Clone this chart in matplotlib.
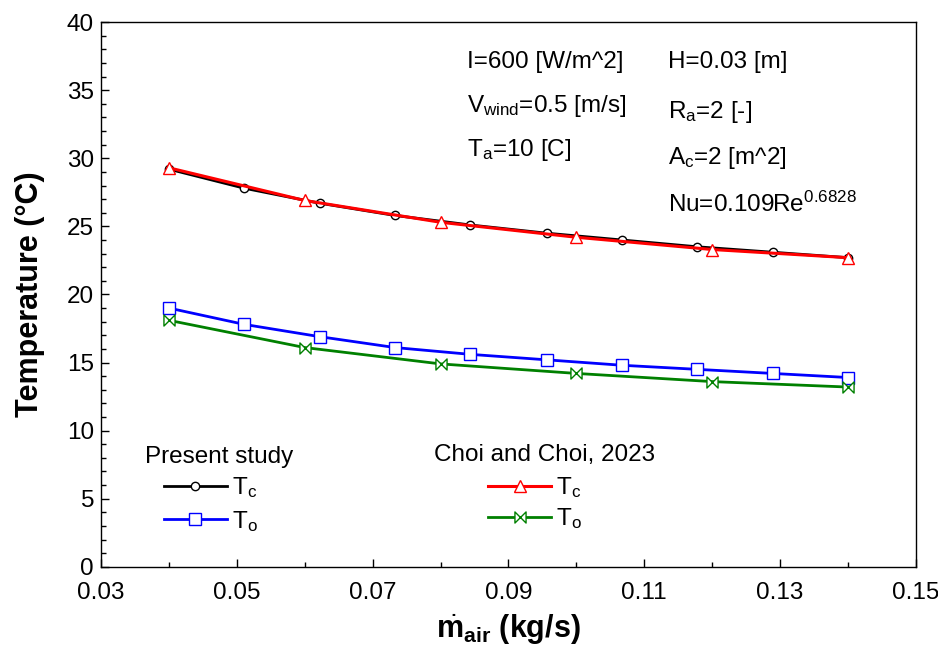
import numpy as np
import matplotlib
matplotlib.use("Agg")
import matplotlib.pyplot as plt
from matplotlib.ticker import MultipleLocator
from matplotlib.path import Path

plt.rcParams['font.family'] = ['Liberation Sans', 'DejaVu Sans']
plt.rcParams['mathtext.fontset'] = 'custom'
plt.rcParams['mathtext.rm'] = 'Liberation Sans'
plt.rcParams['mathtext.it'] = 'Liberation Sans:italic'
plt.rcParams['mathtext.bf'] = 'Liberation Sans:bold'

# present study (10 points)
m_present = [0.04, 0.0511, 0.0622, 0.0733, 0.0844, 0.0956, 0.1067, 0.1178, 0.1289, 0.14]
tc_present = [29.2, 27.8, 26.7, 25.8, 25.1, 24.5, 24.0, 23.5, 23.1, 22.7]
to_present = [19.0, 17.8, 16.9, 16.1, 15.6, 15.2, 14.8, 14.5, 14.2, 13.9]

# Choi and Choi, 2023 (6 points)
m_choi = [0.04, 0.06, 0.08, 0.10, 0.12, 0.14]
tc_choi = [29.3, 26.9, 25.3, 24.2, 23.3, 22.7]
to_choi = [18.1, 16.1, 14.9, 14.2, 13.6, 13.2]

notes_left = ['I=600 [W/m^2]', r'V$_\mathregular{wind}$=0.5 [m/s]', r'T$_\mathregular{a}$=10 [C]']
notes_right = ['H=0.03 [m]', r'R$_\mathregular{a}$=2 [-]', r'A$_\mathregular{c}$=2 [m^2]',
               r'Nu=0.109Re$^\mathregular{0.6828}$']

bowtie = Path([(-1, 1), (1, -1), (1, 1), (-1, -1), (-1, 1)],
              [Path.MOVETO, Path.LINETO, Path.LINETO, Path.LINETO, Path.CLOSEPOLY])

fs = 17.5

fig = plt.figure(figsize=(9.38, 6.5), dpi=100)
ax = fig.add_axes([0.1077, 0.128, 0.8688, 0.838])

l1, = ax.plot(m_present, tc_present, color='black', lw=2, marker='o', ms=6,
              mfc='white', mec='black', mew=1, label=r'T$_\mathregular{c}$', zorder=2)
l2, = ax.plot(m_present, to_present, color='blue', lw=2, marker='s', ms=8,
              mfc='white', mec='blue', mew=1, label=r'T$_\mathregular{o}$', zorder=2)
l3, = ax.plot(m_choi, tc_choi, color='red', lw=2.2, marker='^', ms=8,
              mfc='white', mec='red', mew=1, label=r'T$_\mathregular{c}$', zorder=3)
l4, = ax.plot(m_choi, to_choi, color='green', lw=2, marker=bowtie, ms=8,
              mfc='white', mec='green', mew=1, label=r'T$_\mathregular{o}$', zorder=3)

ax.set_xlim(0.03, 0.15)
ax.set_ylim(0, 40)
ax.xaxis.set_minor_locator(MultipleLocator(0.01))
ax.yaxis.set_major_locator(MultipleLocator(5))
ax.yaxis.set_minor_locator(MultipleLocator(1))
ax.set_xticks(np.arange(0.03, 0.151, 0.02))
ax.set_xticklabels(['0.03', '0.05', '0.07', '0.09', '0.11', '0.13', '0.15'])
ax.tick_params(which='both', direction='in', labelsize=fs)
ax.tick_params(which='major', length=6, width=1)
ax.tick_params(which='minor', length=3.5, width=1)
ax.tick_params(axis='x', pad=11)
ax.tick_params(axis='y', pad=5)
for s in ax.spines.values():
    s.set_linewidth(1)

ax.set_ylabel('Temperature (°C)', fontsize=22, fontweight='bold', labelpad=16)
ax.set_xlabel(r'$\dot{\mathbf{m}}_\mathbf{air}$ (kg/s)', fontsize=22, fontweight='bold', labelpad=6)

ys = [0.927, 0.846, 0.765]
for t, y in zip(notes_left, ys):
    ax.text(0.449, y, t, transform=ax.transAxes, fontsize=fs, va='center')
ys = [0.927, 0.835, 0.750, 0.666]
for t, y in zip(notes_right, ys):
    ax.text(0.696, y, t, transform=ax.transAxes, fontsize=fs, va='center')

ax.text(0.054, 0.202, 'Present study', transform=ax.transAxes, fontsize=fs, va='center')
ax.text(0.409, 0.206, 'Choi and Choi, 2023', transform=ax.transAxes, fontsize=fs, va='center')

leg1 = ax.legend(handles=[l1, l2], loc='upper left', bbox_to_anchor=(0.077, 0.168),
                 frameon=False, fontsize=fs, handlelength=2.6, handletextpad=0.2,
                 borderpad=0, borderaxespad=0, labelspacing=0.35, numpoints=1)
ax.add_artist(leg1)
ax.legend(handles=[l3, l4], loc='upper left', bbox_to_anchor=(0.475, 0.168),
          frameon=False, fontsize=fs, handlelength=2.6, handletextpad=0.2,
          borderpad=0, borderaxespad=0, labelspacing=0.25, numpoints=1)

fig.savefig('out.png', dpi=100)
